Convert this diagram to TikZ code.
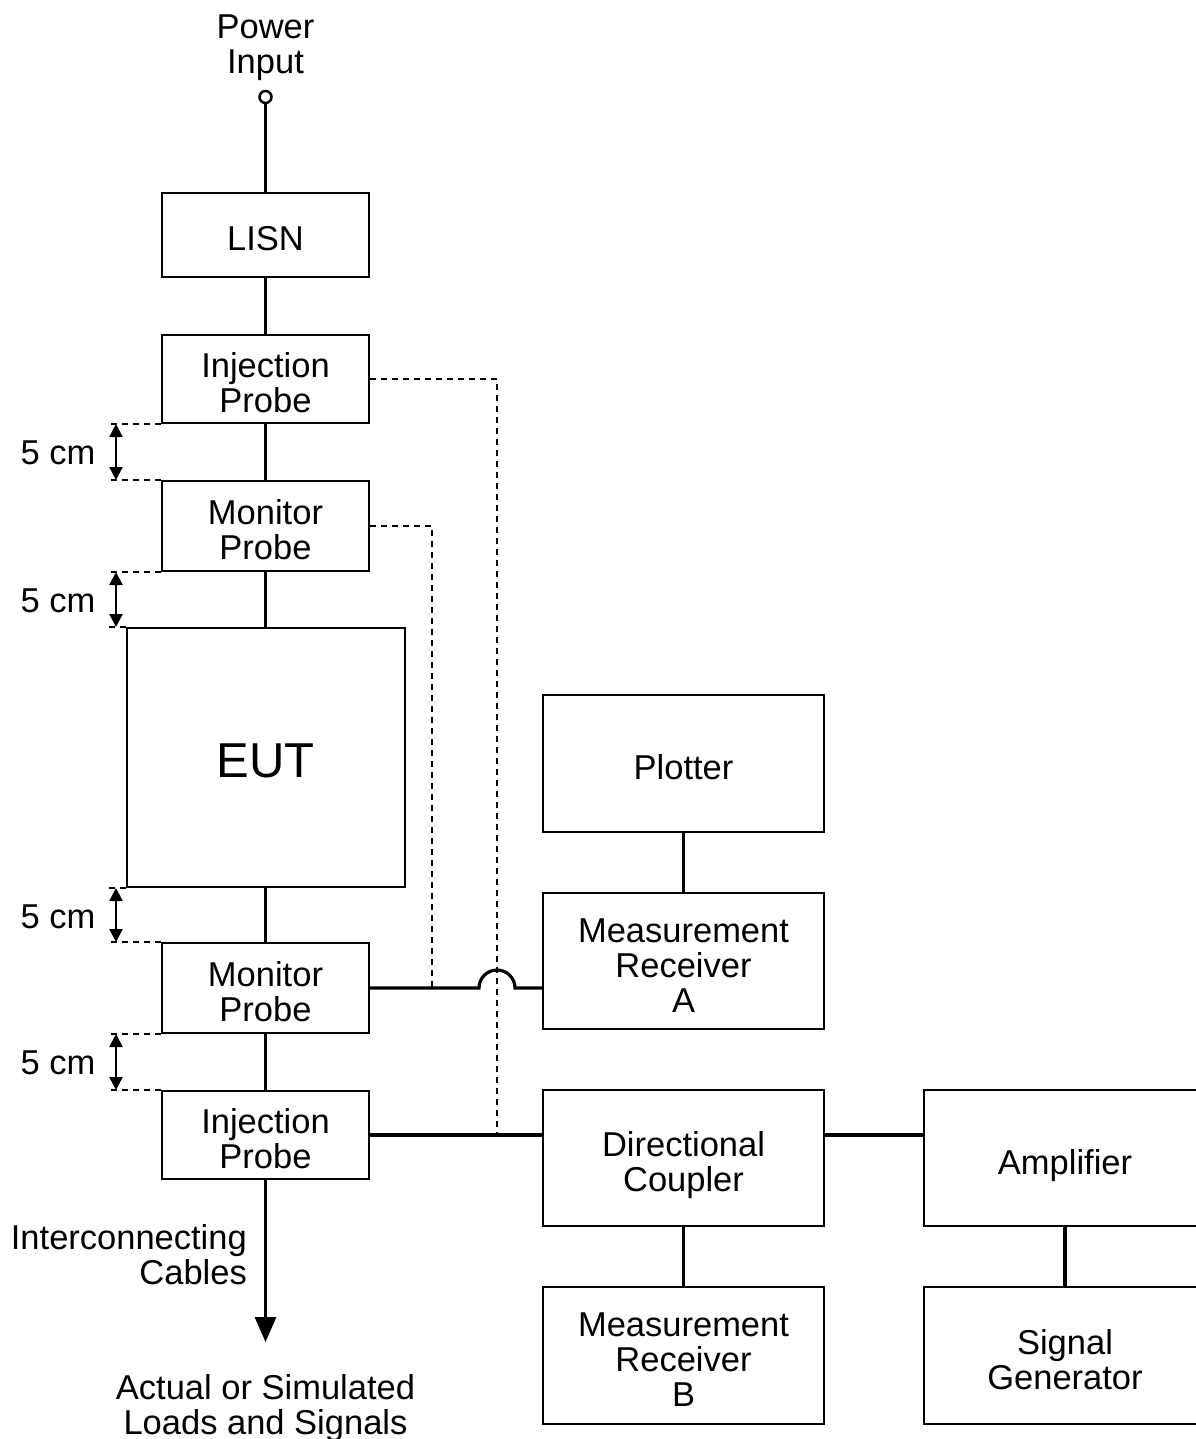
\documentclass[tikz,border=0pt]{standalone}
\usepackage{fontspec}
\setmainfont{Liberation Sans}
\usetikzlibrary{arrows.meta,calc}
\newcommand\fsmain{\fontsize{34.5}{35}\selectfont}
\newcommand\fsbig{\fontsize{49}{50}\selectfont}
% text block with fixed top/bottom struts, so every box label sits like the reference
\newcommand\bt[1]{\rule{0pt}{40pt}#1\rule[-8pt]{0pt}{8pt}}
\begin{document}
\begin{tikzpicture}[x=1pt,y=-1pt,
  blk/.style={draw, line width=2pt, align=center, inner sep=0pt, font=\fsmain},
  probe/.style={blk, minimum width=207pt, minimum height=88pt},
  instr/.style={blk, minimum width=281pt, minimum height=136pt},
  lbl/.style={font=\fsmain, align=center, inner sep=0pt},
  conn/.style={line width=3.2pt},
  dline/.style={line width=1.3pt, dash pattern=on 6pt off 5pt},
  dimarr/.style={line width=2.4pt, {Triangle[length=13pt,width=13pt]}-{Triangle[length=13pt,width=13pt]}}]
\fill[white] (0,0) rectangle (1195,1439);
\useasboundingbox (0,0) rectangle (1195,1439);

% left column
\node[lbl] (power) at (265.5,48) {Power\\Input};
\node[circle, draw, line width=2.5pt, minimum size=12pt, inner sep=0pt, fill=white] (pin) at (265.5,97) {};
\node[probe, minimum height=84pt] (lisn) at (265.5,235) {\bt{LISN}};
\node[probe] (inj1) at (265.5,379) {\bt{Injection\\Probe}};
\node[probe, minimum height=90pt] (mon1) at (265.5,526) {\bt{Monitor\\Probe}};
\node[blk, minimum width=278pt, minimum height=259pt, font=\fsbig] (eut) at (265.5,757.5) {\rule{0pt}{48pt}EUT\rule[-8pt]{0pt}{8pt}};
\node[probe, minimum height=90pt] (mon2) at (265.5,988) {\bt{Monitor\\Probe}};
\node[probe] (inj2) at (265.5,1135) {\bt{Injection\\Probe}};

% right instruments
\node[instr, minimum height=137pt] (plot) at (683.5,763.5) {\bt{Plotter}};
\node[instr] (mra) at (683.5,961) {\bt{Measurement\\Receiver\\A}};
\node[instr] (dc) at (683.5,1158) {\bt{Directional\\Coupler}};
\node[instr, minimum height=137pt] (mrb) at (683.5,1355.5) {\bt{Measurement\\Receiver\\B}};
\node[instr, minimum width=282pt] (amp) at (1065,1158) {\bt{Amplifier}};
\node[instr, minimum width=282pt, minimum height=137pt] (sg) at (1065,1355.5) {\bt{Signal\\Generator}};

% main chain
\draw[conn] (pin) -- (lisn);
\draw[conn] (lisn) -- (inj1);
\draw[conn] (inj1) -- (mon1);
\draw[conn] (mon1) -- (eut);
\draw[conn] (eut) -- (mon2);
\draw[conn] (mon2) -- (inj2);
\coordinate (load) at (265.5,1342);
\draw[conn, -{Triangle[length=25pt,width=21pt]}] (inj2) -- (load);
\node[lbl, anchor=east, align=right] (cables) at (247,1255) {Interconnecting\\Cables};
\node[lbl] (loads) at (265.5,1408) {Actual or Simulated\\Loads and Signals};

% dashed probe leads
\coordinate (dxA) at (432,0);
\coordinate (dxB) at (497,0);
\draw[dline] (inj1.east) -- (inj1.east -| dxB) -- (inj2.east -| dxB);
\draw[dline] (mon1.east) -- (mon1.east -| dxA) -- (mon2.east -| dxA);

% solid connections
\draw[conn] (mon2.east) -- ($(mon2.east -| dxB)+(-18,0)$) arc[start angle=180,end angle=0,radius=18pt] -- (mon2.east -| mra.west);
\draw[conn] (inj2.east) -- (inj2.east -| dc.west);
\draw[conn] (dc.east |- inj2.east) -- (amp.west |- inj2.east);
\draw[conn] (plot) -- (mra);
\draw[conn] (dc) -- (mrb);
\draw[conn] (amp) -- (sg);

% 5 cm dimensions
\coordinate (ex) at (108,0);
\coordinate (ax) at (116,0);
\draw[dline] (inj1.south west) -- (inj1.south west -| ex);
\draw[dline] (mon1.north west) -- (mon1.north west -| ex);
\draw[dimarr] (inj1.south west -| ax) -- (mon1.north west -| ax);
\node[lbl] (d1) at (58,453) {5 cm};

\draw[dline] (mon1.south west) -- (mon1.south west -| ex);
\draw[dline] (eut.north west) -- (eut.north west -| ex);
\draw[dimarr] (mon1.south west -| ax) -- (eut.north west -| ax);
\node[lbl] (d2) at (58,601) {5 cm};

\draw[dline] (eut.south west) -- (eut.south west -| ex);
\draw[dline] (mon2.north west) -- (mon2.north west -| ex);
\draw[dimarr] (eut.south west -| ax) -- (mon2.north west -| ax);
\node[lbl] (d3) at (58,917) {5 cm};

\draw[dline] (mon2.south west) -- (mon2.south west -| ex);
\draw[dline] (inj2.north west) -- (inj2.north west -| ex);
\draw[dimarr] (mon2.south west -| ax) -- (inj2.north west -| ax);
\node[lbl] (d4) at (58,1063) {5 cm};
\end{tikzpicture}
\end{document}
